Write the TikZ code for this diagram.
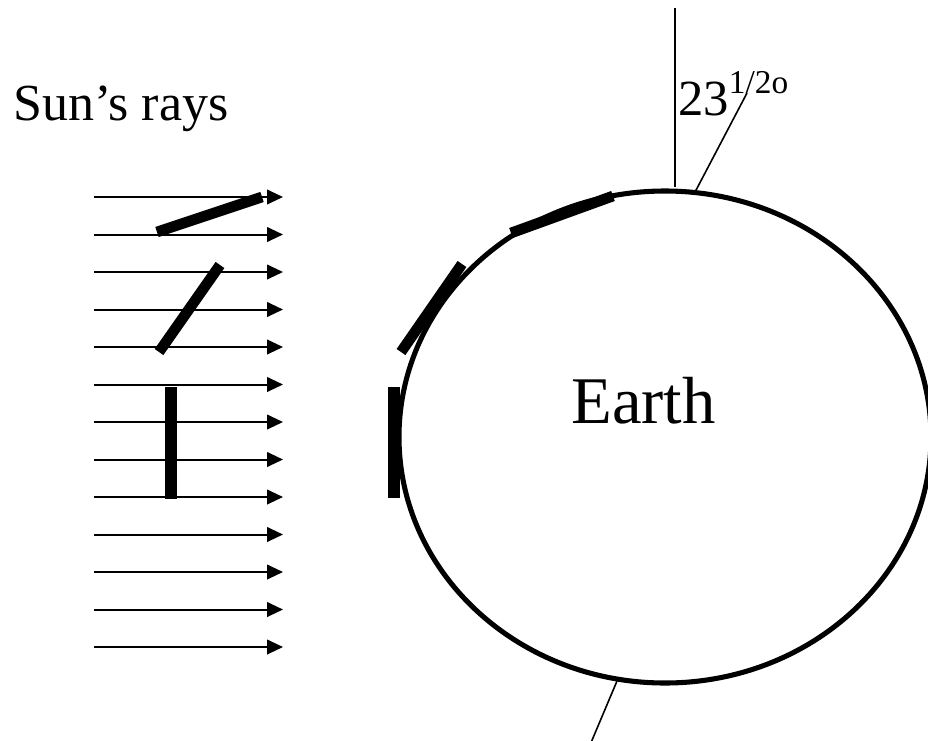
\documentclass[tikz,border=0pt]{standalone}
\usepackage{fontspec}
\setmainfont{Liberation Serif}
\usetikzlibrary{arrows.meta}
\begin{document}
\begin{tikzpicture}[x=0.75pt,y=-0.75pt,
  ray/.style={line width=1.5pt,-{Triangle[length=12pt,width=11pt]}},
  plate/.style={line width=8pt},
  axisline/.style={line width=1.2pt},
  lbl/.style={inner sep=0pt,anchor=base west}]
\useasboundingbox (0,0) rectangle (928,740);
% sun's rays
\foreach \i in {0,...,12}{
  \coordinate (rs\i) at (94,{197+37.5*\i});
  \coordinate (re\i) at (283,{197+37.5*\i});
  \draw[ray] (rs\i) -- (re\i);
}
% plates in the rays
\coordinate (p1a) at (157,232); \coordinate (p1b) at (262,197);
\coordinate (p2a) at (159,352); \coordinate (p2b) at (220,265);
\coordinate (p3a) at (171,387); \coordinate (p3b) at (171,499);
\draw[plate] (p1a) -- (p1b);
\draw[plate] (p2a) -- (p2b);
\draw[plate,line width=9pt] (p3a) -- (p3b);
% earth
\coordinate (earthc) at (665,437);
\draw[line width=3.8pt] (earthc) ellipse [x radius=266, y radius=246];
\node[lbl,font=\fontsize{50}{50}\selectfont] (earth) at (571,423) {Earth};
% plates on earth
\coordinate (e1a) at (511,233); \coordinate (e1b) at (613,196);
\coordinate (e2a) at (401,352); \coordinate (e2b) at (462,264);
\coordinate (e3a) at (394,387); \coordinate (e3b) at (394,498);
\draw[plate] (e1a) -- (e1b);
\draw[plate] (e2a) -- (e2b);
\draw[plate,line width=9pt] (e3a) -- (e3b);
% axis lines
\coordinate (vt) at (675,8); \coordinate (vb) at (675,187);
\coordinate (at) at (747,93); \coordinate (ab) at (694,194);
\coordinate (bt) at (617,681); \coordinate (bb) at (590,745);
\draw[axisline] (vt) -- (vb);
\draw[axisline] (ab) -- (at);
\draw[axisline] (bt) -- (bb);
% labels
\node[lbl,font=\fontsize{39}{39}\selectfont] (sun) at (13,120) {Sun’s rays};
\node[lbl,font=\fontsize{38}{38}\selectfont] (angle) at (678,115) {23\raisebox{16pt}{\fontsize{25}{25}\selectfont 1/2o}};
\end{tikzpicture}
\end{document}
